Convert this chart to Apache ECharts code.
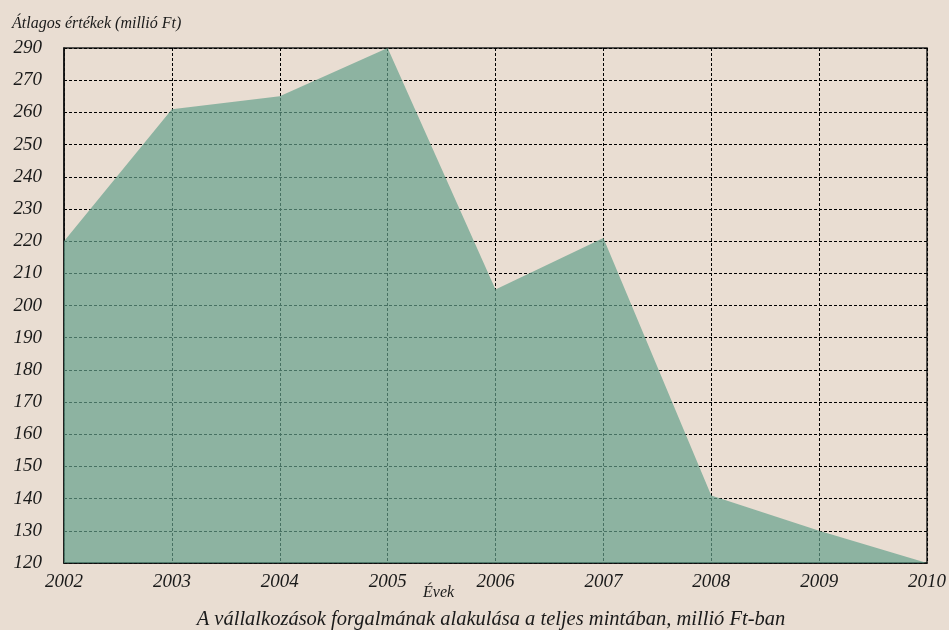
<!DOCTYPE html>
<html>
<head>
<meta charset="utf-8">
<script src="https://cdn.jsdelivr.net/npm/echarts@6/dist/echarts.min.js"></script>
<style>
  html, body { margin: 0; padding: 0; background: #e9ddd2; }
  #main { width: 949px; height: 630px; }
</style>
</head>
<body>
<div id="main"></div>
<script>
// data
const years = ['2002', '2003', '2004', '2005', '2006', '2007', '2008', '2009', '2010'];
const values = [220, 261, 265, 290, 205, 221, 141, 130, 120];
// the axis labels of the original (280 is not shown, labels are evenly spaced)
const yTicks = [120, 130, 140, 150, 160, 170, 180, 190, 200, 210, 220, 230, 240, 250, 260, 270, 290];

const serif = "'Liberation Serif', 'DejaVu Serif', serif";

// value -> position on the label scale (each label is one step)
function toAxis(v) {
    for (let i = 0; i < yTicks.length - 1; i++) {
        if (v <= yTicks[i + 1]) {
            return i + (v - yTicks[i]) / (yTicks[i + 1] - yTicks[i]);
        }
    }
    return yTicks.length - 1;
}

const myChart = echarts.init(document.getElementById('main'));

const dotted = { color: '#000', width: 1, type: [3, 2] };

let option = {
    backgroundColor: '#e9ddd2',
    animation: false,
    textStyle: { fontFamily: serif, fontStyle: 'italic', color: '#1a1a1a' },
    title: [
        {
            text: 'Átlagos értékek (millió Ft)',
            left: 12, top: 16, padding: 0,
            textStyle: { fontFamily: serif, fontStyle: 'italic', fontWeight: 'normal', fontSize: 16, color: '#1a1a1a' }
        },
        {
            text: 'Évek',
            left: 423, top: 585, padding: 0,
            textStyle: { fontFamily: serif, fontStyle: 'italic', fontWeight: 'normal', fontSize: 16, color: '#1a1a1a' }
        },
        {
            text: 'A vállalkozások forgalmának alakulása a teljes mintában, millió Ft-ban',
            left: 491, top: 610, padding: 0, textAlign: 'center',
            textStyle: { fontFamily: serif, fontStyle: 'italic', fontWeight: 'normal', fontSize: 20.5, color: '#1a1a1a' }
        }
    ],
    grid: {
        left: 64,
        right: 18,
        top: 48,
        bottom: 67,
        show: true,
        borderColor: '#222',
        borderWidth: 1.5,
        backgroundColor: 'transparent'
    },
    xAxis: {
        type: 'category',
        data: years,
        boundaryGap: false,
        axisLine: { lineStyle: { color: '#111', width: 1.5 } },
        axisTick: { show: false },
        axisLabel: {
            margin: 9,
            fontSize: 19,
            fontFamily: serif,
            fontStyle: 'italic',
            color: '#1a1a1a'
        },
        splitLine: { show: true, lineStyle: dotted }
    },
    yAxis: {
        type: 'value',
        min: 0,
        max: yTicks.length - 1,
        interval: 1,
        axisLine: { show: true, lineStyle: { color: '#111', width: 1.5 } },
        axisTick: { show: false },
        axisLabel: {
            margin: 22,
            fontSize: 19,
            fontFamily: serif,
            fontStyle: 'italic',
            color: '#1a1a1a',
            padding: [0, 0, 6, 0],
            formatter: function (i) { return String(yTicks[i]); }
        },
        splitLine: { show: true, lineStyle: dotted }
    },
    series: [
        {
            name: 'Átlagos értékek',
            type: 'line',
            data: values.map(toAxis),
            symbol: 'none',
            lineStyle: { width: 0 },
            areaStyle: { color: 'rgb(101,161,140)', opacity: 0.7 },
            z: 3
        }
    ]
};

myChart.setOption(option, true);
</script>
</body>
</html>
